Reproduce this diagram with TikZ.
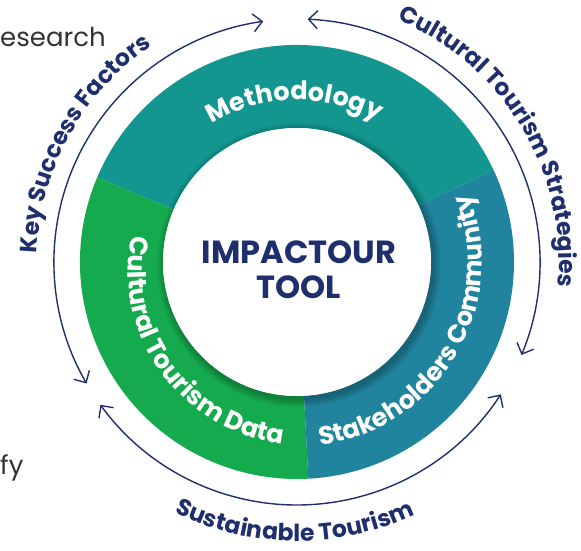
\documentclass[tikz,border=0pt]{standalone}
\usepackage{fontspec}
\setmainfont{Poppins}
\usetikzlibrary{decorations.text,arrows.meta}

\definecolor{navy}{HTML}{1F2F6E}
\definecolor{methcol}{HTML}{12968F}
\definecolor{datacol}{HTML}{16AA4F}
\definecolor{stakecol}{HTML}{20849E}
\definecolor{sidegray}{HTML}{333333}

\newcommand{\inlab}{\fontsize{25.5}{29}\selectfont\bfseries\color{white}}
\newcommand{\outlab}{\fontsize{23.5}{27}\selectfont\bfseries\color{navy}}

\begin{document}
\begin{tikzpicture}[x=1pt,y=1pt,
  ringtext/.style={decorate,decoration={text along path,text align=center,text={#1}}},
  cyclearrow/.style={draw=navy,line width=1.4pt,
    {Straight Barb[length=9pt,width=18pt]}-{Straight Barb[length=9pt,width=18pt]}},
  sidetext/.style={inner sep=0pt,anchor=base west,text=sidegray,font=\fontsize{26}{30}\selectfont}
]
\useasboundingbox (0,0) rectangle (581,550);

\node[sidetext] (research) at (0,503.5) {esearch};
\node[sidetext] (fy) at (0,76) {fy};

\begin{scope}[shift={(297,288)}]
\fill[methcol] (25:217pt) arc[start angle=25,end angle=157,radius=217pt]
  -- (157:134pt) arc[start angle=157,end angle=25,radius=134pt] -- cycle;
\fill[datacol] (157:217pt) arc[start angle=157,end angle=273,radius=217pt]
  -- (273:134pt) arc[start angle=273,end angle=157,radius=134pt] -- cycle;
\fill[stakecol] (273:217pt) arc[start angle=273,end angle=385,radius=217pt]
  -- (25:134pt) arc[start angle=385,end angle=273,radius=134pt] -- cycle;

\foreach \k in {1,...,8}
  \fill[black,opacity=0.03] (2pt,-3pt) circle[radius=134pt+\k pt];
\fill[white] (0,0) circle[radius=134pt];

\path[ringtext={|\inlab|Methodology}] (171:162pt) arc[start angle=171,end angle=11,radius=162pt];
\path[ringtext={|\inlab|Stakeholders Community}] (-115.5:185pt) arc[start angle=-115.5,end angle=54.5,radius=185pt];
\begin{scope}[shift={(6,-8)}]
\path[ringtext={|\inlab|Cultural Tourism Data}] (131:175pt) arc[start angle=131,end angle=301,radius=175pt];
\end{scope}

\draw[cyclearrow] (210:243pt) arc[start angle=210,end angle=98,radius=243pt];
\draw[cyclearrow] (87.5:243pt) arc[start angle=87.5,end angle=-22.5,radius=243pt];
\draw[cyclearrow] (216:243pt) arc[start angle=216,end angle=327,radius=243pt];

\path[ringtext={|\outlab|Key Success Factors}] (236:260pt) arc[start angle=236,end angle=66,radius=260pt];
\path[ringtext={|\outlab|Cultural Tourism Strategies}] (116:262pt) arc[start angle=116,end angle=-54,radius=262pt];
\path[ringtext={|\outlab|Sustainable Tourism}] (184.5:279pt) arc[start angle=184.5,end angle=354.5,radius=279pt];

\node[anchor=base,inner sep=0pt,text=navy,font=\fontsize{32}{36}\selectfont\bfseries] (title1) at (2,-1) {IMPACTOUR};
\node[anchor=base,inner sep=0pt,text=navy,font=\fontsize{32}{36}\selectfont\bfseries] (title2) at (2,-36) {TOOL};
\end{scope}
\end{tikzpicture}
\end{document}
